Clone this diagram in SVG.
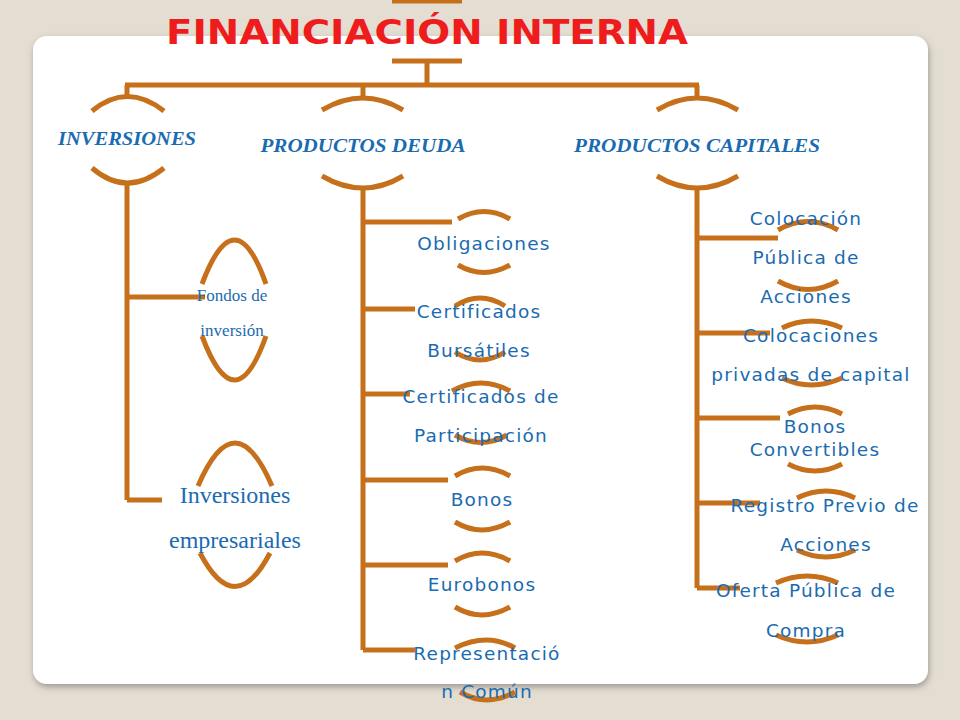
<svg xmlns="http://www.w3.org/2000/svg" width="960" height="720" viewBox="0 0 960 720">
<defs>
<filter id="sh" x="-5%" y="-5%" width="110%" height="110%"><feDropShadow dx="1" dy="3" stdDeviation="3" flood-color="#555" flood-opacity="0.5"/></filter>
<style>
.ln{stroke:#C6701B;stroke-width:5;fill:none;stroke-linecap:butt}
.t{font-family:"DejaVu Sans",Verdana,sans-serif;font-size:18.5px;fill:#1A6BB0;text-anchor:middle;letter-spacing:1.2px}
.h{font-family:"Liberation Serif",serif;font-size:19px;font-style:italic;font-weight:bold;fill:#1A6BB0;text-anchor:middle}
.s{font-family:"Liberation Serif",serif;fill:#1A6BB0;text-anchor:middle}
</style>
</defs>
<rect width="960" height="720" fill="#E4DDD2"/>
<rect x="33" y="36" width="895" height="648" rx="14" fill="#fff" filter="url(#sh)"/>
<g id="connectors" class="ln">
<path d="M392 1H462M392 61H462M427 61V85M125 85H699M127 85V96M363 85V98M697 85V98"/>
<path d="M127 185V500M127 297H205M127 500H162"/>
<path d="M363 188V650M363 222H452M363 309H415M363 394H410M363 480H448M363 565H448M363 650H415"/>
<path d="M697 188V588M697 238H778M697 333H770M697 418H780M697 503H760M697 588H740"/>
</g>
<g id="title"><text x="427" y="44" font-family="DejaVu Sans,Verdana,sans-serif" font-weight="bold" font-size="33" fill="#EE1C1C" text-anchor="middle" textLength="522" lengthAdjust="spacingAndGlyphs">FINANCIACIÓN INTERNA</text></g>
<g id="inversiones"><path class="ln" d="M92 111Q127 82 164 111M92 168Q127 198 164 168"/><text class="h" x="127" y="145" textLength="138" lengthAdjust="spacingAndGlyphs">INVERSIONES</text></g>
<g id="deuda"><path class="ln" d="M322 110Q363 86 403 110M322 176Q363 200 403 176"/><text class="h" x="363" y="152" textLength="205" lengthAdjust="spacingAndGlyphs">PRODUCTOS DEUDA</text></g>
<g id="capitales"><path class="ln" d="M657 110Q697 86 738 110M657 176Q697 200 738 176"/><text class="h" x="697" y="152" textLength="246" lengthAdjust="spacingAndGlyphs">PRODUCTOS CAPITALES</text></g>
<g id="fondos"><path class="ln" d="M202 284Q235 196 266 284M202 336Q235 424 266 336"/><text class="s" x="232" y="301" font-size="17">Fondos de</text><text class="s" x="232" y="336" font-size="17">inversión</text></g>
<g id="empresariales"><path class="ln" d="M198 486Q235 400 272 486M200 553Q235 620 270 553"/><text class="s" x="235" y="503" font-size="24">Inversiones</text><text class="s" x="235" y="548" font-size="24">empresariales</text></g>
<g id="obligaciones"><path class="ln" d="M458 219Q484 204 510 219M458 265Q484 280 510 265"/><text class="t" x="484" y="250">Obligaciones</text></g>
<g id="bursatiles"><path class="ln" d="M455 306Q480 290 505 306M455 352Q480 368 505 352"/><text class="t" x="479" y="318">Certificados</text><text class="t" x="479" y="357">Bursátiles</text></g>
<g id="participacion"><path class="ln" d="M452 391Q481 375 510 391M455 435Q481 450 507 435"/><text class="t" x="481" y="403">Certificados de</text><text class="t" x="481" y="442">Participación</text></g>
<g id="bonos"><path class="ln" d="M455 476Q482 460 510 476M455 522Q482 538 510 522"/><text class="t" x="482" y="506">Bonos</text></g>
<g id="eurobonos"><path class="ln" d="M455 561Q482 545 510 561M455 607Q482 623 510 607"/><text class="t" x="482" y="591">Eurobonos</text></g>
<g id="representacion"><path class="ln" d="M455 648Q487 632 515 648M460 692Q487 708 515 692"/><text class="t" x="487" y="660">Representació</text><text class="t" x="487" y="698">n Común</text></g>
<g id="colocacion"><path class="ln" d="M778 230Q808 213 838 230M778 281Q808 298 838 281"/><text class="t" x="806" y="225">Colocación</text><text class="t" x="806" y="264">Pública de</text><text class="t" x="806" y="303">Acciones</text></g>
<g id="privadas"><path class="ln" d="M782 328Q811 314 842 328M782 378Q811 392 842 378"/><text class="t" x="811" y="342">Colocaciones</text><text class="t" x="811" y="381">privadas de capital</text></g>
<g id="convertibles"><path class="ln" d="M788 414Q815 400 842 414M788 464Q815 478 842 464"/><text class="t" x="815" y="433">Bonos</text><text class="t" x="815" y="456">Convertibles</text></g>
<g id="registro"><path class="ln" d="M797 498Q826 484 855 498M797 550Q826 564 855 550"/><text class="t" x="825" y="512">Registro Previo de</text><text class="t" x="826" y="551">Acciones</text></g>
<g id="oferta"><path class="ln" d="M776 583Q807 569 838 583M776 635Q807 649 838 635"/><text class="t" x="806" y="597">Oferta Pública de</text><text class="t" x="806" y="637">Compra</text></g>
</svg>
